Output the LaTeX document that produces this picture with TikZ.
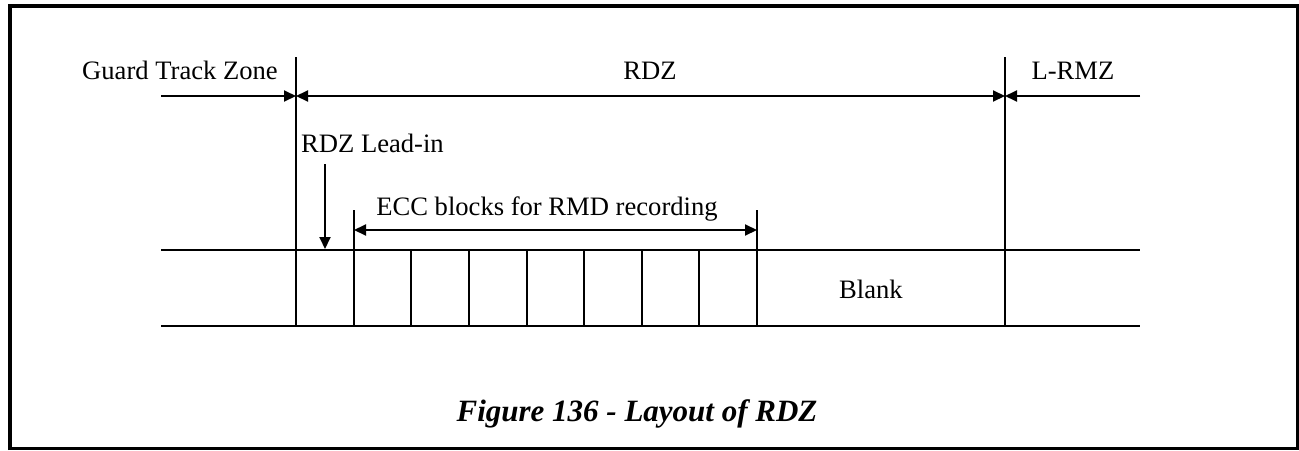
\documentclass[tikz,border=0pt]{standalone}
\usepackage{fontspec}
\setmainfont{Liberation Serif}
\usetikzlibrary{arrows.meta}
\begin{document}
\begin{tikzpicture}[x=1pt,y=-1pt,
  ln/.style={line width=2pt},
  tip/.style={-{Triangle[length=12pt,width=11pt]}},
  lbl/.style={font=\fontsize{26.6}{30}\selectfont, inner sep=0pt, anchor=base},
  captext/.style={font=\fontsize{31}{34}\selectfont\bfseries\itshape, inner sep=0pt}]
\useasboundingbox (0,0) rectangle (1299,450);
% frame
\draw[line width=4pt] (10,450) -- (10,5.5) -- (1299,5.5);
\draw[line width=2.5pt] (1297.5,5) -- (1297.5,448.5) -- (10,448.5);
% coordinates
\coordinate (gL) at (161,96);
\coordinate (vA) at (296,96);
\coordinate (vB) at (1005,96);
\coordinate (gR) at (1140,96);
\coordinate (vAt) at (296,57);
\coordinate (vAb) at (296,326);
\coordinate (vBt) at (1005,57);
\coordinate (vBb) at (1005,326);
\coordinate (li1) at (325,164);
\coordinate (li2) at (325,249);
\coordinate (e1) at (354,230);
\coordinate (e2) at (757,230);
\coordinate (e1t) at (354,210);
\coordinate (e2t) at (757,210);
\coordinate (t1) at (161,250);
\coordinate (t2) at (1140,250);
\coordinate (b1) at (161,326);
\coordinate (b2) at (1140,326);
% labels
\node[lbl] (gtz) at (180,79) {Guard Track Zone};
\node[lbl] (rdz) at (650,79) {RDZ};
\node[lbl] (lrmz) at (1073,79) {L-RMZ};
\node[lbl, anchor=base west] (lead) at (301,152) {RDZ Lead-in};
\node[lbl] (ecc) at (547,215) {ECC blocks for RMD recording};
\node[lbl] (blank) at (871,298) {Blank};
\node[captext] (caption) at (637,414) {Figure 136 - Layout of RDZ};
% verticals
\draw[ln] (vAt) -- (vAb);
\draw[ln] (vBt) -- (vBb);
\draw[ln] (e1t) -- (354,326);
\draw[ln] (e2t) -- (757,326);
\foreach \x in {411,469,527,584,642,699} \draw[ln] (\x,250) -- (\x,326);
% horizontals
\draw[ln] (t1) -- (t2);
\draw[ln] (b1) -- (b2);
% arrows
\draw[ln,tip] (gL) -- (vA);
\draw[ln,{Triangle[length=12pt,width=11pt]}-{Triangle[length=12pt,width=11pt]}] (vA) -- (vB);
\draw[ln,tip] (gR) -- (vB);
\draw[ln,tip] (li1) -- (li2);
\draw[ln,{Triangle[length=12pt,width=11pt]}-{Triangle[length=12pt,width=11pt]}] (e1) -- (e2);
\end{tikzpicture}
\end{document}
